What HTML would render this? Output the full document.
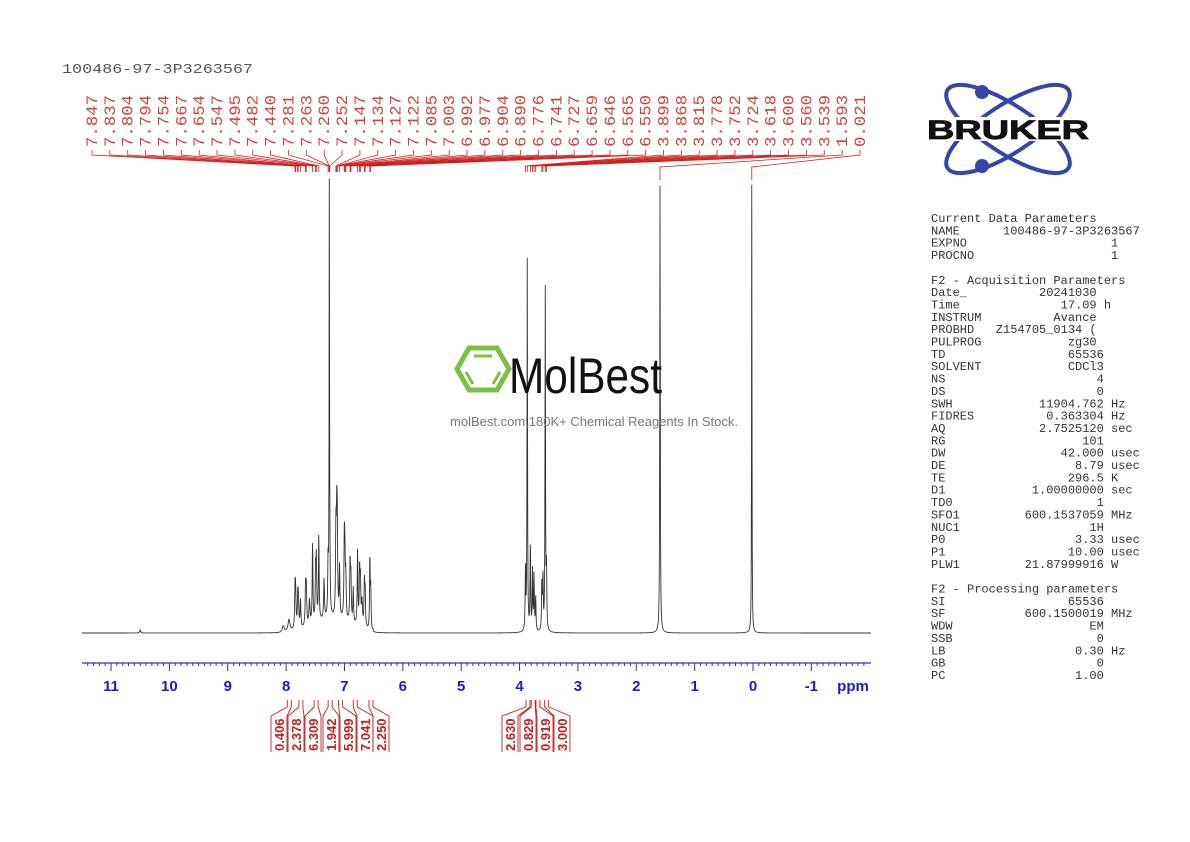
<!DOCTYPE html>
<html><head><meta charset="utf-8"><style>
html,body{margin:0;padding:0;background:#fff;}
svg{display:block;}
.m{font-family:"Liberation Mono",monospace;}
</style></head><body>
<svg id="s" width="1190" height="842" viewBox="0 0 1190 842" xmlns="http://www.w3.org/2000/svg">
<text x="62" y="73" class="m" font-size="14" fill="#555" textLength="191" lengthAdjust="spacingAndGlyphs">100486-97-3P3263567</text>
<g id="labels" fill="#d04040" class="m" font-size="16"></g>
<g id="llines" stroke="#d02020" stroke-width="0.8" fill="none"></g>
<path id="spec" fill="none" stroke="#333" stroke-width="0.9"/>
<line x1="82" y1="663" x2="871" y2="663" stroke="#3030c0" stroke-width="1.2"/>
<g id="ticks" stroke="#3030c0" stroke-width="1"></g>
<g id="ax" fill="#1a1ad0" font-family="Liberation Sans, sans-serif" font-weight="bold" font-size="15" text-anchor="middle"></g>
<text x="853" y="691" fill="#1a1ad0" font-family="Liberation Sans, sans-serif" font-weight="bold" font-size="15" text-anchor="middle">ppm</text>
<g id="integ" stroke="#c02020" stroke-width="0.9" fill="none"></g>
<g id="itext" fill="#c02020" font-family="Liberation Sans, sans-serif" font-weight="bold" font-size="13"></g>
<g>
<polygon points="469,348 497,348 509,369 497,390 469,390 457,369" fill="none" stroke="#7cc043" stroke-width="5"/>
<line x1="474" y1="356" x2="492" y2="356" stroke="#7cc043" stroke-width="3"/>
<line x1="466" y1="372" x2="473" y2="384" stroke="#7cc043" stroke-width="3"/>
<line x1="500" y1="372" x2="493" y2="384" stroke="#7cc043" stroke-width="3"/>
<text x="509" y="393" font-family="Liberation Sans Narrow, Liberation Sans, sans-serif" font-size="50" fill="#111" textLength="153" lengthAdjust="spacingAndGlyphs">MolBest</text>
<text x="594" y="426" text-anchor="middle" font-family="Liberation Sans, sans-serif" font-size="13" fill="#777">molBest.com,180K+ Chemical Reagents In Stock.</text>
</g>
<g>
<ellipse cx="1008" cy="129" rx="72" ry="24" transform="rotate(33 1008 129)" fill="none" stroke="#3545a8" stroke-width="4"/>
<ellipse cx="1008" cy="129" rx="72" ry="24" transform="rotate(-33 1008 129)" fill="none" stroke="#3545a8" stroke-width="4"/>
<circle cx="982" cy="92" r="7" fill="#3545a8"/>
<circle cx="982" cy="166" r="7" fill="#3545a8"/>
<rect x="926" y="117" width="166" height="24" fill="#fff"/>
<text x="1008" y="139" text-anchor="middle" font-family="Liberation Sans, sans-serif" font-weight="bold" font-size="27" fill="#111" stroke="#111" stroke-width="0.8" textLength="162" lengthAdjust="spacingAndGlyphs">BRUKER</text>
</g>
<g id="params" class="m" font-size="12" fill="#333"></g>
</svg>
<script>
var NS="http://www.w3.org/2000/svg";
function el(t,a,p,txt){var e=document.createElementNS(NS,t);for(var k in a)e.setAttribute(k,a[k]);if(txt!=null)e.textContent=txt;document.getElementById(p).appendChild(e);return e;}
function X(p){return 753-58.36*p;}
var pk=["7.847","7.837","7.804","7.794","7.754","7.667","7.654","7.547","7.495","7.482","7.440","7.281","7.263","7.260","7.252","7.147","7.134","7.127","7.122","7.085","7.003","6.992","6.977","6.904","6.890","6.776","6.741","6.727","6.659","6.646","6.565","6.550","3.899","3.868","3.815","3.778","3.752","3.724","3.618","3.600","3.560","3.539","1.593","0.021"];
for(var i=0;i<pk.length;i++){
  var lx=92+i*17.86;
  el("text",{transform:"translate("+(lx+5)+",147) rotate(-90)",textLength:"52",lengthAdjust:"spacingAndGlyphs"},"labels",pk[i]);
  var px=X(parseFloat(pk[i]));
  var d="M"+lx+",150 L"+lx+",155 L"+px+",166 L"+px+",172";
  if(i>=42){d="M"+lx+",150 L"+lx+",155 L"+px+",167 L"+px+",180";}
  el("path",{d:d},"llines");
}
var peaks=[[7.26,440,0.004],[7.847,40,0.008],[7.837,30,0.008],[7.80,30,0.008],[7.79,25,0.008],[7.754,28,0.008],[7.667,40,0.008],[7.654,35,0.008],[7.547,80,0.007],[7.495,50,0.007],[7.482,60,0.007],[7.44,85,0.007],[7.35,40,0.008],[7.281,55,0.007],[7.252,45,0.007],[7.147,85,0.007],[7.134,70,0.007],[7.127,55,0.007],[7.122,45,0.007],[7.085,50,0.007],[7.003,60,0.007],[6.992,45,0.007],[6.977,40,0.007],[6.904,60,0.007],[6.890,45,0.007],[6.85,35,0.007],[6.776,75,0.007],[6.741,55,0.007],[6.727,45,0.007],[6.659,45,0.007],[6.646,35,0.007],[6.565,75,0.006],[6.550,40,0.006],[7.95,12,0.02],[8.05,6,0.02],[7.6,25,0.01],[7.0,25,0.01],[6.7,25,0.01],
[3.899,60,0.006],[3.868,372,0.005],[3.815,90,0.006],[3.778,60,0.006],[3.752,55,0.006],[3.724,35,0.006],[3.618,50,0.006],[3.600,55,0.006],[3.560,342,0.005],[3.539,60,0.006],
[1.593,453,0.005],[0.021,453,0.004],[10.5,3,0.01]];
var d="";
for(var x=82;x<=871;x+=0.25){
  var p=(753-x)/58.36,y=0;
  for(var j=0;j<peaks.length;j++){var q=peaks[j],u=(p-q[0])/q[2];y+=q[1]/(1+u*u);}
  if(p>6.5&&p<8.1)y+=14*Math.exp(-Math.pow((p-7.2)/0.45,2));
  d+=(d?"L":"M")+x.toFixed(2)+","+(633-y).toFixed(2);
}
document.getElementById("spec").setAttribute("d",d);
for(var v=-1.9;v<=11.6;v+=0.1){var r=Math.round(v*10)/10,xx=X(r);if(xx<82||xx>871)continue;
 var major=Math.abs(r-Math.round(r))<0.01;
 el("line",{x1:xx,y1:663,x2:xx,y2:major?671:666},"ticks");
 if(major&&r>=-1)el("text",{x:xx,y:691},"ax",String(Math.round(r)));}
var ig=[["0.406",279,7.98],["2.378",296,7.78],["6.309",313,7.52],["1.942",331,7.28],["5.999",348,7.10],["7.041",365,6.85],["2.250",381,6.58],["2.630",510,3.89],["0.829",528,3.80],["0.919",545,3.72],["3.000",562,3.57]];
for(var k=0;k<ig.length;k++){var a=ig[k],xx=a[1],px=X(a[2]);
 el("path",{d:"M"+px+",700 L"+px+",707 L"+(xx-8)+",716 L"+(xx-8)+",752 M"+(px+4)+",700 L"+(px+4)+",707 L"+(xx+8)+",716 L"+(xx+8)+",752"},"integ");
 el("text",{transform:"translate("+(xx+5)+",751) rotate(-90)"},"itext",a[0]);}
var P=["Current Data Parameters","NAME      100486-97-3P3263567","EXPNO                    1","PROCNO                   1","","F2 - Acquisition Parameters","Date_          20241030","Time              17.09 h","INSTRUM          Avance","PROBHD   Z154705_0134 (","PULPROG            zg30","TD                 65536","SOLVENT            CDCl3","NS                     4","DS                     0","SWH            11904.762 Hz","FIDRES          0.363304 Hz","AQ             2.7525120 sec","RG                   101","DW                42.000 usec","DE                  8.79 usec","TE                 296.5 K","D1            1.00000000 sec","TD0                    1","SFO1         600.1537059 MHz","NUC1                  1H","P0                  3.33 usec","P1                 10.00 usec","PLW1         21.87999916 W","","F2 - Processing parameters","SI                 65536","SF           600.1500019 MHz","WDW                   EM","SSB                    0","LB                  0.30 Hz","GB                     0","PC                  1.00"];
for(var n=0;n<P.length;n++){var t=el("text",{x:931,y:222+n*12.35},"params",P[n]);t.style.whiteSpace="pre";}
</script>
</body></html>
